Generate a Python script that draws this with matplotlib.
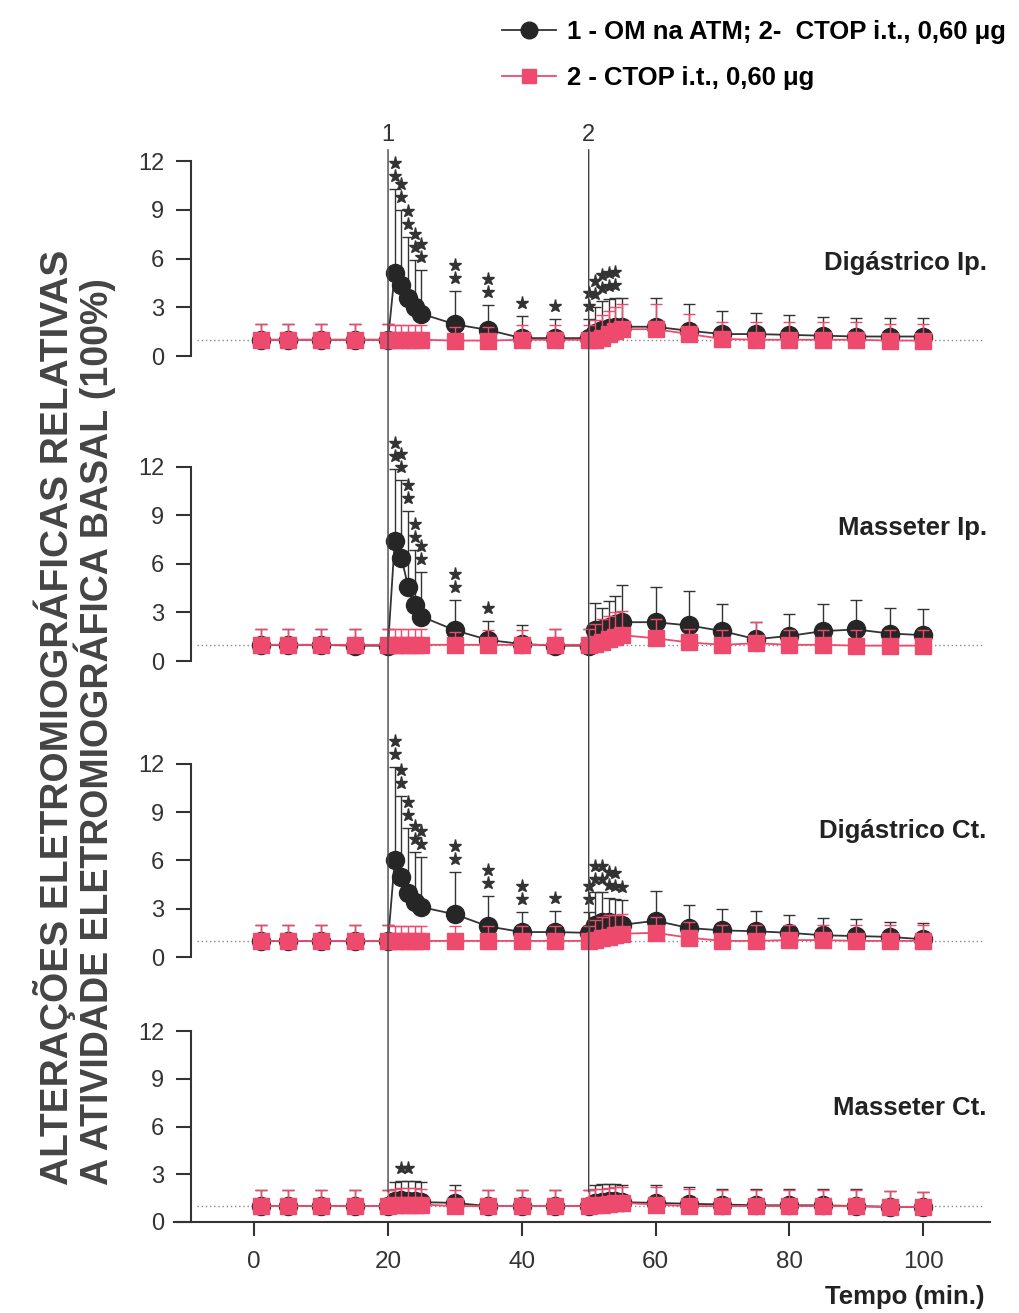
import numpy as np
import matplotlib.pyplot as plt
from matplotlib.lines import Line2D
from matplotlib.patches import ConnectionPatch

plt.rcParams['font.family'] = ['Liberation Sans', 'DejaVu Sans']

# tempo das medidas (min.)
tempo = [1, 5, 10, 15, 20, 21, 22, 23, 24, 25, 30, 35, 40, 45, 50,
         51, 52, 53, 54, 55, 60, 65, 70, 75, 80, 85, 90, 95, 100]

# --- Digástrico Ip. ---
dig_ip_om = [1.0, 1.0, 1.0, 1.0, 1.0, 5.1, 4.4, 3.6, 3.0, 2.6, 1.95, 1.6, 1.1, 1.1, 1.1,
             1.4, 1.6, 1.7, 1.8, 1.8, 1.8, 1.55, 1.35, 1.35, 1.3, 1.25, 1.2, 1.2, 1.2]
dig_ip_om_sem = [1.0, 1.0, 1.0, 1.0, 1.0, 5.2, 4.6, 3.7, 2.9, 2.7, 2.05, 1.55, 1.35, 1.2, 1.15,
                 1.6, 1.8, 1.8, 1.8, 1.8, 1.8, 1.65, 1.45, 1.3, 1.25, 1.15, 1.15, 1.15, 1.15]
dig_ip_ctop = [1.0, 1.0, 1.0, 1.0, 1.0, 1.0, 1.0, 1.0, 1.0, 1.0, 0.95, 0.95, 1.0, 1.0, 1.0,
               1.0, 1.1, 1.35, 1.55, 1.65, 1.65, 1.35, 1.05, 1.0, 1.0, 1.0, 1.0, 0.95, 0.95]
dig_ip_ctop_sem = [1.0, 1.0, 1.0, 1.0, 1.0, 0.9, 0.9, 0.9, 0.9, 0.9, 0.85, 0.85, 0.9, 0.9, 0.9,
                   1.2, 1.4, 1.45, 1.45, 1.55, 1.55, 1.25, 1.05, 1.1, 1.1, 1.1, 1.1, 1.05, 1.05]
dig_ip_stars = {21: 2, 22: 2, 23: 2, 24: 2, 25: 2, 30: 2, 35: 2, 40: 1, 45: 1,
                50: 2, 51: 2, 52: 2, 53: 2, 54: 2}

# --- Masseter Ip. ---
mas_ip_om = [1.0, 1.0, 1.0, 0.95, 0.95, 7.4, 6.4, 4.6, 3.45, 2.75, 1.9, 1.3, 1.05, 0.95, 0.95,
             1.9, 2.0, 2.1, 2.3, 2.4, 2.4, 2.2, 1.85, 1.35, 1.55, 1.85, 1.95, 1.7, 1.6]
mas_ip_om_sem = [1.0, 1.0, 1.0, 1.0, 1.05, 4.5, 4.8, 4.7, 3.4, 2.75, 1.9, 1.2, 1.15, 1.05, 1.05,
                 1.7, 1.3, 1.6, 1.7, 2.3, 2.2, 2.1, 1.7, 1.05, 1.35, 1.7, 1.8, 1.6, 1.6]
mas_ip_ctop = [1.0, 1.0, 1.0, 1.0, 1.0, 1.0, 1.0, 1.0, 1.0, 1.0, 1.0, 1.0, 1.0, 1.0, 1.0,
               1.05, 1.2, 1.35, 1.5, 1.6, 1.4, 1.15, 1.0, 1.1, 1.0, 1.0, 0.95, 0.95, 0.95]
mas_ip_ctop_sem = [1.0, 1.0, 1.0, 1.0, 1.0, 0.95, 0.95, 0.95, 0.95, 0.95, 0.8, 0.9, 0.9, 1.0, 1.0,
                   1.25, 1.4, 1.45, 1.5, 1.5, 1.2, 0.85, 0.9, 1.3, 0.9, 0.9, 0.95, 0.95, 0.95]
mas_ip_stars = {21: 2, 22: 2, 23: 2, 24: 2, 25: 2, 30: 2, 35: 1}

# --- Digástrico Ct. ---
dig_ct_om = [1.0, 1.0, 1.0, 1.0, 1.0, 6.0, 5.0, 4.0, 3.4, 3.1, 2.65, 1.9, 1.55, 1.55, 1.5,
             2.0, 2.15, 2.15, 2.05, 2.0, 2.25, 1.8, 1.65, 1.6, 1.5, 1.35, 1.3, 1.25, 1.1]
dig_ct_om_sem = [1.0, 1.0, 1.0, 1.0, 1.0, 5.8, 5.0, 4.0, 3.15, 3.1, 2.65, 1.9, 1.25, 1.3, 1.3,
                 2.05, 1.9, 1.5, 1.55, 1.55, 1.85, 1.4, 1.35, 1.25, 1.1, 1.1, 1.05, 0.95, 1.0]
dig_ct_ctop = [1.0, 1.0, 1.0, 1.0, 1.0, 1.0, 1.0, 1.0, 1.0, 1.0, 1.0, 1.0, 1.0, 1.0, 1.0,
               1.05, 1.15, 1.25, 1.35, 1.45, 1.5, 1.2, 1.0, 1.0, 1.05, 1.05, 1.0, 1.0, 1.0]
dig_ct_ctop_sem = [1.0, 1.0, 1.0, 1.0, 1.0, 0.95, 0.95, 0.95, 0.95, 0.95, 0.9, 0.95, 0.95, 0.95, 0.95,
                   1.25, 1.35, 1.35, 1.25, 1.25, 1.0, 1.0, 1.0, 1.0, 0.95, 0.95, 1.0, 1.0, 1.0]
dig_ct_stars = {21: 2, 22: 2, 23: 2, 24: 2, 25: 2, 30: 2, 35: 2, 40: 2, 45: 1,
                50: 2, 51: 2, 52: 2, 53: 2, 54: 2, 55: 1}

# --- Masseter Ct. ---
mas_ct_om = [1.0, 1.0, 1.0, 1.0, 1.0, 1.3, 1.4, 1.35, 1.3, 1.25, 1.2, 1.0, 1.0, 1.0, 1.0,
             1.2, 1.25, 1.3, 1.3, 1.25, 1.2, 1.15, 1.1, 1.05, 1.05, 1.05, 1.0, 0.95, 0.95]
mas_ct_om_sem = [1.0, 1.0, 1.0, 1.0, 1.0, 1.2, 1.2, 1.25, 1.25, 1.25, 1.15, 1.0, 1.0, 1.0, 1.0,
                 1.1, 1.15, 1.1, 1.1, 1.1, 1.15, 1.05, 1.0, 1.0, 1.0, 1.0, 1.05, 1.0, 0.95]
mas_ct_ctop = [1.0, 1.0, 1.0, 1.0, 1.0, 1.1, 1.1, 1.1, 1.1, 1.1, 1.0, 1.0, 1.0, 1.0, 1.0,
               1.05, 1.1, 1.15, 1.2, 1.2, 1.1, 1.0, 1.0, 1.0, 1.0, 1.0, 1.0, 0.95, 0.95]
mas_ct_ctop_sem = [1.0, 1.0, 1.0, 1.0, 1.0, 1.0, 1.05, 1.05, 1.05, 1.0, 1.0, 1.0, 1.0, 1.0, 1.0,
                   1.0, 1.0, 1.0, 1.0, 1.0, 1.1, 1.1, 1.0, 1.0, 1.0, 1.0, 1.0, 1.0, 0.95]
mas_ct_stars = {22: 1, 23: 1}

paineis = [
    ("Digástrico Ip.", dig_ip_om, dig_ip_om_sem, dig_ip_ctop, dig_ip_ctop_sem, dig_ip_stars),
    ("Masseter Ip.", mas_ip_om, mas_ip_om_sem, mas_ip_ctop, mas_ip_ctop_sem, mas_ip_stars),
    ("Digástrico Ct.", dig_ct_om, dig_ct_om_sem, dig_ct_ctop, dig_ct_ctop_sem, dig_ct_stars),
    ("Masseter Ct.", mas_ct_om, mas_ct_om_sem, mas_ct_ctop, mas_ct_ctop_sem, mas_ct_stars),
]

label_om = "1 - OM na ATM; 2-  CTOP i.t., 0,60 \u03bcg"
label_ctop = "2 - CTOP i.t., 0,60 \u03bcg"

PRETO = '#262626'
ROSA = '#ee4a6e'
CINZA = '#333333'

W, H = 1020, 1313
fig = plt.figure(figsize=(W / 100, H / 100), dpi=100)

# posição de cada painel em pixels: (linha do zero, pixels por unidade, y do rótulo)
layout = [(356, 16.25, 5.7), (661, 16.17, 8.2), (957, 16.1, 7.8), (1222, 15.9, 7.2)]
x_left, x_right = 174, 990
YMIN, YMAX = -1, 15

axes = []
for i, ((nome, om, om_sem, ctop, ctop_sem, stars), (y0, u, ylab)) in enumerate(zip(paineis, layout)):
    top = y0 - YMAX * u
    bot = y0 - YMIN * u
    ax = fig.add_axes([x_left / W, 1 - bot / H, (x_right - x_left) / W, (bot - top) / H])
    ax.patch.set_alpha(0)
    ax.set_xlim(-12, 110)
    ax.set_ylim(YMIN, YMAX)

    # linha de base (100%)
    ax.hlines(1, -8.5, 109, colors='#888888', linestyles=(0, (1, 2)), lw=1, zorder=1)

    om = np.array(om)
    ctop = np.array(ctop)
    ax.errorbar(tempo, om, yerr=[np.zeros_like(om), om_sem], fmt='none', ecolor=CINZA,
                elinewidth=1, capsize=4.5, capthick=1, zorder=2)
    ax.plot(tempo, om, color=CINZA, lw=1.3, marker='o', ms=13, mfc=PRETO, mec=PRETO, zorder=3)
    ax.errorbar(tempo, ctop, yerr=[np.zeros_like(ctop), ctop_sem], fmt='none', ecolor=ROSA,
                elinewidth=1, capsize=4.5, capthick=1, zorder=4)
    ax.plot(tempo, ctop, color=ROSA, lw=1.3, marker='s', ms=11, mfc=ROSA, mec=ROSA, zorder=5)

    # asteriscos de significância acima da barra de erro
    for t, n in stars.items():
        k = tempo.index(t)
        topo = om[k] + om_sem[k]
        ys = [topo + 0.8 + 0.8 * j for j in range(n)]
        ax.plot([t] * n, ys, ls='none', marker='*', ms=9.5, color=CINZA, zorder=6, clip_on=False)

    ax.text(109.5, ylab, nome, ha='right', va='center', fontsize=18.5,
            fontweight='bold', color='#222222')

    ax.spines['left'].set_position(('data', -9.5))
    ax.spines['left'].set_bounds(0, 12)
    ax.spines['left'].set_linewidth(1.5)
    ax.spines['left'].set_color(CINZA)
    ax.spines['top'].set_visible(False)
    ax.spines['right'].set_visible(False)
    ax.set_yticks([0, 3, 6, 9, 12])
    ax.tick_params(axis='y', length=11, width=1.5, color=CINZA, labelsize=17,
                   labelcolor=CINZA, pad=8)
    if i < 3:
        ax.spines['bottom'].set_visible(False)
        ax.set_xticks([])
    else:
        ax.spines['bottom'].set_position(('data', 0))
        ax.spines['bottom'].set_linewidth(1.5)
        ax.spines['bottom'].set_color(CINZA)
        ax.set_xticks([0, 20, 40, 60, 80, 100])
        ax.tick_params(axis='x', length=10, width=1.5, color=CINZA, labelsize=17.5,
                       labelcolor=CINZA, pad=11)
    axes.append(ax)

# linhas verticais das injeções 1 e 2
for t_inj, rot in [(20, "1"), (50, "2")]:
    con = ConnectionPatch(xyA=(t_inj, 12.7), coordsA=axes[0].transData,
                          xyB=(t_inj, 1.9), coordsB=axes[3].transData,
                          color='#444444', lw=1)
    fig.add_artist(con)
    axes[0].text(t_inj, 13.6, rot, ha='center', va='center', fontsize=17, color=CINZA)

fig.text(985 / W, 1 - 1297 / H, "Tempo (min.)", ha='right', va='center',
         fontsize=18.5, fontweight='bold', color='#222222')

# rótulo do eixo y em duas linhas
fig.text(55 / W, 1 - 1185 / H, "ALTERAÇÕES ELETROMIOGRÁFICAS RELATIVAS", rotation=90,
         rotation_mode='anchor', ha='left', va='center', fontsize=28, fontweight='bold',
         color='#444444')
fig.text(95 / W, 1 - 1185 / H, "A ATIVIDADE ELETROMIOGRÁFICA BASAL (100%)", rotation=90,
         rotation_mode='anchor', ha='left', va='center', fontsize=27, fontweight='bold',
         color='#444444')

handles = [
    Line2D([], [], color=CINZA, lw=1.3, marker='o', ms=12, mfc=PRETO, mec=PRETO),
    Line2D([], [], color=ROSA, lw=1.3, marker='s', ms=10, mfc=ROSA, mec=ROSA),
]
fig.legend(handles, [label_om, label_ctop], loc='upper left', bbox_to_anchor=(0.492, 0.985),
           frameon=False, prop={'weight': 'bold', 'size': 18.5}, handlelength=2.1,
           handletextpad=0.45, labelspacing=0.85, borderpad=0, borderaxespad=0)

fig.savefig('out.png', dpi=100)
